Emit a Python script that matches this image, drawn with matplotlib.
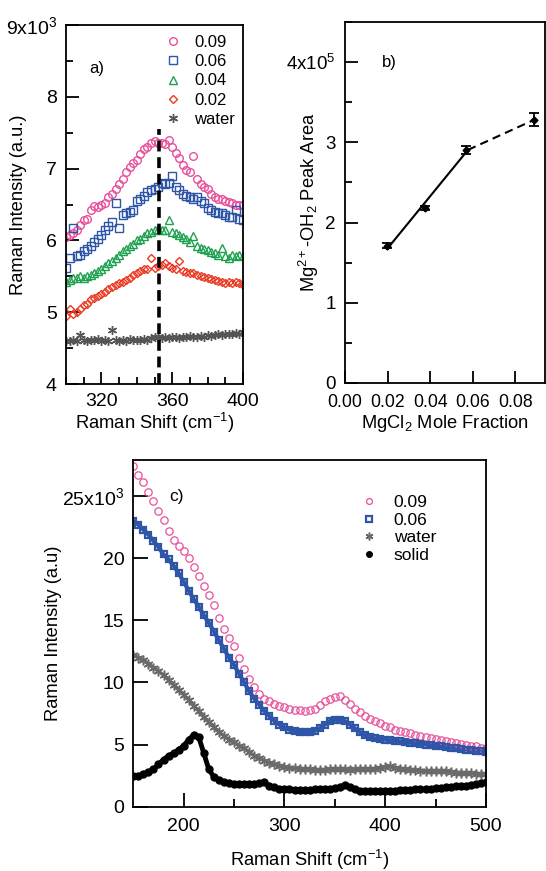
import numpy as np
import matplotlib
matplotlib.use("Agg")
import matplotlib.pyplot as plt
from matplotlib.ticker import FixedLocator, MultipleLocator

plt.rcParams['font.family'] = ['Liberation Sans', 'DejaVu Sans']
plt.rcParams['mathtext.fontset'] = 'custom'
plt.rcParams['mathtext.rm'] = 'Liberation Sans'
plt.rcParams['mathtext.it'] = 'Liberation Sans:italic'
plt.rcParams['axes.linewidth'] = 1.3

# ---- panel a: low-frequency region, 300-400 cm-1 ----
shift_a = np.arange(300, 401, 2)
a_009 = [6.05, 6.07, 6.10, 6.15, 6.22, 6.28, 6.30, 6.42, 6.48, 6.47,
         6.50, 6.52, 6.60, 6.65, 6.72, 6.78, 6.85, 6.95, 7.02, 7.08,
         7.12, 7.20, 7.27, 7.30, 7.36, 7.38, 7.35, 7.36, 7.34, 7.40,
         7.30, 7.22, 7.15, 7.05, 6.98, 6.95, 7.17, 6.85, 6.78, 6.75,
         6.72, 6.65, 6.60, 6.58, 6.57, 6.55, 6.53, 6.52, 6.50, 6.50, 6.50]
a_006 = [5.62, 5.76, 6.17, 5.78, 5.80, 5.85, 5.88, 5.92, 5.98, 6.02,
         6.08, 6.15, 6.20, 6.25, 6.52, 6.17, 6.35, 6.38, 6.40, 6.42,
         6.55, 6.58, 6.62, 6.68, 6.70, 6.72, 6.75, 6.80, 6.78, 6.80,
         6.90, 6.75, 6.70, 6.65, 6.62, 6.60, 6.58, 6.60, 6.55, 6.52,
         6.45, 6.42, 6.40, 6.38, 6.38, 6.35, 6.33, 6.32, 6.42, 6.30, 6.28]
a_004 = [5.42, 5.45, 5.48, 5.47, 5.50, 5.48, 5.50, 5.52, 5.55, 5.58,
         5.60, 5.65, 5.68, 5.72, 5.75, 5.80, 5.85, 5.88, 5.92, 5.95,
         6.00, 6.02, 6.06, 6.10, 6.12, 6.15, 6.16, 6.15, 6.14, 6.28,
         6.12, 6.10, 6.08, 6.05, 6.02, 5.98, 6.06, 5.92, 5.90, 5.88,
         5.86, 5.84, 5.82, 5.80, 5.90, 5.78, 5.76, 5.80, 5.78, 5.80, 5.78]
a_002 = [4.95, 5.05, 4.98, 5.00, 5.05, 5.10, 5.12, 5.18, 5.20, 5.22,
         5.25, 5.28, 5.32, 5.35, 5.38, 5.40, 5.42, 5.45, 5.48, 5.52,
         5.55, 5.58, 5.60, 5.60, 5.76, 5.62, 5.64, 5.66, 5.68, 5.65,
         5.62, 5.60, 5.72, 5.58, 5.56, 5.55, 5.54, 5.52, 5.50, 5.49,
         5.48, 5.46, 5.45, 5.44, 5.42, 5.40, 5.42, 5.40, 5.42, 5.40, 5.38]
a_water = [4.60, 4.60, 4.62, 4.60, 4.68, 4.62, 4.60, 4.62, 4.61, 4.63,
           4.60, 4.62, 4.60, 4.75, 4.61, 4.60, 4.62, 4.60, 4.63, 4.61,
           4.62, 4.61, 4.63, 4.62, 4.64, 4.65, 4.66, 4.64, 4.65, 4.64,
           4.66, 4.65, 4.64, 4.66, 4.65, 4.67, 4.66, 4.65, 4.67, 4.66,
           4.68, 4.67, 4.68, 4.69, 4.68, 4.70, 4.69, 4.70, 4.71, 4.70, 4.72]
peak_pos = 352.5
peak_top = 7.55

# ---- panel b: peak area vs mole fraction ----
mole_frac = [0.0198, 0.0378, 0.0568, 0.0889]
peak_area = [1.71, 2.18, 2.91, 3.28]      # x1e5
area_err = [0.03, 0.03, 0.05, 0.08]

# ---- panel c: wide range, 150-500 cm-1 ----
shift_c = np.arange(150, 501, 5)
c_009 = [27.4, 26.7, 26.1, 25.3, 24.6, 23.8, 23.1, 22.2, 21.5, 21.0,
         20.6, 20.0, 19.3, 18.6, 17.8, 17.0, 16.2, 15.2, 14.3, 13.6,
         12.9, 12.0, 11.1, 10.3, 9.6, 9.1, 8.7, 8.5, 8.3, 8.1,
         8.0, 7.9, 7.8, 7.8, 7.7, 7.8, 7.9, 8.2, 8.5, 8.7,
         8.8, 8.9, 8.6, 8.3, 7.9, 7.6, 7.3, 7.1, 6.9, 6.7,
         6.5, 6.4, 6.2, 6.1, 6.0, 5.9, 5.8, 5.7, 5.6, 5.5,
         5.45, 5.35, 5.3, 5.2, 5.1, 5.05, 5.0, 4.9, 4.85, 4.75, 4.7]
c_006 = [23.0, 22.7, 22.3, 21.9, 21.4, 20.9, 20.3, 19.9, 19.4, 18.8,
         18.1, 17.4, 16.7, 16.1, 15.4, 14.8, 14.1, 13.4, 12.7, 12.0,
         11.4, 10.7, 10.0, 9.3, 8.7, 8.2, 7.7, 7.3, 6.9, 6.6,
         6.4, 6.2, 6.1, 6.0, 6.0, 6.0, 6.1, 6.3, 6.6, 6.9,
         7.0, 7.0, 6.9, 6.6, 6.3, 6.0, 5.75, 5.6, 5.5, 5.45,
         5.4, 5.35, 5.3, 5.25, 5.2, 5.15, 5.1, 5.05, 5.0, 4.95,
         4.9, 4.85, 4.8, 4.75, 4.7, 4.65, 4.6, 4.55, 4.5, 4.45, 4.4]
c_water = [12.2, 12.0, 11.8, 11.5, 11.2, 10.9, 10.6, 10.2, 9.8, 9.4,
           9.0, 8.6, 8.1, 7.7, 7.2, 6.8, 6.4, 6.0, 5.7, 5.4,
           5.2, 4.9, 4.7, 4.4, 4.1, 3.9, 3.7, 3.55, 3.4, 3.3,
           3.2, 3.15, 3.1, 3.05, 3.0, 3.0, 2.95, 2.95, 2.95, 3.0,
           3.0, 3.0, 3.0, 2.95, 3.0, 3.0, 3.0, 3.0, 3.05, 3.15,
           3.2, 3.25, 3.1, 3.05, 3.0, 2.95, 2.95, 2.9, 2.9, 2.9,
           2.9, 2.9, 2.85, 2.8, 2.75, 2.75, 2.7, 2.7, 2.65, 2.6, 2.6]
c_solid = [2.5, 2.5, 2.6, 2.8, 3.0, 3.4, 3.8, 4.1, 4.3, 4.6,
           4.9, 5.4, 5.8, 5.6, 4.3, 3.0, 2.4, 2.15, 2.0, 1.9,
           1.85, 1.8, 1.8, 1.8, 1.8, 1.9, 1.95, 1.7, 1.55, 1.45,
           1.4, 1.4, 1.35, 1.35, 1.35, 1.35, 1.4, 1.4, 1.4, 1.45,
           1.5, 1.6, 1.75, 1.6, 1.4, 1.3, 1.25, 1.25, 1.25, 1.25,
           1.25, 1.3, 1.3, 1.35, 1.35, 1.35, 1.4, 1.4, 1.4, 1.45,
           1.5, 1.5, 1.55, 1.6, 1.65, 1.65, 1.7, 1.75, 1.8, 1.9, 1.95]

PINK = '#E8509B'
BLUE = '#2F55A8'
GREEN = '#1EA14F'
RED = '#EA3A22'
GRAY = '#555555'
FS = 13.2
TS = 14
ASTER = (6, 2, 0)


def style_ticks(ax, major=9, minor=5):
    ax.tick_params(which='both', direction='in', top=False, right=False,
                   labelsize=TS, width=1.3, pad=6.5)
    ax.tick_params(which='major', length=major)
    ax.tick_params(which='minor', length=minor)


def place_labels(ax, xlab_y, ylab_x):
    ax.xaxis.set_label_coords(0.5, xlab_y)
    ax.xaxis.label.set_verticalalignment('center')
    ax.yaxis.set_label_coords(ylab_x, 0.5)
    ax.yaxis.label.set_verticalalignment('center')


fig = plt.figure(figsize=(5.46, 8.71), dpi=100)

# panel a
ax1 = fig.add_axes([0.1209, 0.5591, 0.3242, 0.4122])
k = 1000
ax1.plot(shift_a, np.array(a_009) * k, 'o', mfc='none', mec=PINK, ms=5.5, mew=1.0, label='0.09')
ax1.plot(shift_a, np.array(a_006) * k, 's', mfc='none', mec=BLUE, ms=5.2, mew=1.0, label='0.06')
ax1.plot(shift_a, np.array(a_004) * k, '^', mfc='none', mec=GREEN, ms=5.5, mew=1.0, label='0.04')
ax1.plot(shift_a, np.array(a_002) * k, 'D', mfc='none', mec=RED, ms=4.5, mew=1.0, label='0.02')
ax1.plot(shift_a, np.array(a_water) * k, marker=ASTER, ls='none', color=GRAY, ms=6.5, mew=1.0,
         label='water')
ax1.plot([peak_pos, peak_pos], [4000, peak_top * k], color='black', lw=2.6,
         dashes=(3, 1.6))
ax1.set_xlim(300, 400)
ax1.set_ylim(4000, 9000)
ax1.xaxis.set_major_locator(FixedLocator([320, 360, 400]))
ax1.xaxis.set_minor_locator(MultipleLocator(10))
ax1.yaxis.set_major_locator(FixedLocator([4000, 5000, 6000, 7000, 8000, 9000]))
ax1.set_yticklabels(['4', '5', '6', '7', '8', '9x10$^3$'])
ax1.yaxis.set_minor_locator(MultipleLocator(500))
style_ticks(ax1)
ax1.set_xlabel('Raman Shift (cm$^{-1}$)', fontsize=FS)
ax1.set_ylabel('Raman Intensity (a.u.)', fontsize=FS)
place_labels(ax1, -0.109, -0.27)
ax1.text(313, 8400, 'a)', fontsize=12, ha='left', va='center')
ax1.legend(loc='upper left', bbox_to_anchor=(0.56, 0.972), frameon=False,
           fontsize=12, handlelength=1.0, handletextpad=0.75, labelspacing=0.25,
           borderpad=0, borderaxespad=0)

# panel b
ax2 = fig.add_axes([0.6319, 0.5603, 0.3663, 0.4145])
mf = np.array(mole_frac)
pa = np.array(peak_area) * 1e5
er = np.array(area_err) * 1e5
fit = np.polyfit(mf[:3], pa[:3], 1)
xs = np.array([mf[0], mf[2] + 0.001])
ax2.plot(xs, np.polyval(fit, xs), color='black', lw=1.5)
ax2.plot([xs[1], mf[3]], [np.polyval(fit, xs[1]), pa[3]], color='black', lw=1.5,
         dashes=(4, 2.5))
ax2.errorbar(mf, pa, yerr=er, fmt='D', color='black', ms=3.5, capsize=3.5,
             elinewidth=1.3, capthick=1.3)
ax2.set_xlim(0, 0.094)
ax2.set_ylim(0, 4.5e5)
ax2.xaxis.set_major_locator(FixedLocator([0, 0.02, 0.04, 0.06, 0.08]))
ax2.set_xticklabels(['0.00', '0.02', '0.04', '0.06', '0.08'])
ax2.yaxis.set_major_locator(FixedLocator([0, 1e5, 2e5, 3e5, 4e5]))
ax2.set_yticklabels(['0', '1', '2', '3', '4x10$^5$'])
ax2.yaxis.set_minor_locator(MultipleLocator(0.5e5))
style_ticks(ax2)
ax2.tick_params(axis='x', labelsize=12.7, pad=8)
ax2.tick_params(axis='y', labelsize=13.5)
ax2.set_xlabel('MgCl$_2$ Mole Fraction', fontsize=FS)
ax2.set_ylabel('Mg$^{2+}$-OH$_2$ Peak Area', fontsize=FS)
place_labels(ax2, -0.111, -0.18)
ax2.text(0.0175, 4e5, 'b)', fontsize=12, ha='left', va='center')

# panel c
ax3 = fig.add_axes([0.2441, 0.0738, 0.646, 0.398])
ax3.plot(shift_c, np.array(c_006) * k, '-', color=BLUE, lw=3)
ax3.plot(shift_c, np.array(c_water) * k, '-', color='#6A6A6A', lw=2.5)
ax3.plot(shift_c, np.array(c_009) * k, 'o', mfc='none', mec=PINK, ms=5.3, mew=0.9, label='0.09')
ax3.plot(shift_c, np.array(c_006) * k, 's', mfc='none', mec=BLUE, ms=4.8, mew=1.6, label='0.06')
ax3.plot(shift_c, np.array(c_water) * k, marker=ASTER, ls='none', color='#6A6A6A', ms=7,
         mew=1.1, label='water')
ax3.plot(shift_c, np.array(c_solid) * k, 'o', color='black', ms=5, label='solid')
ax3.plot(shift_c, np.array(c_solid) * k, '-', color='black', lw=3.5)
ax3.set_xlim(150, 500)
ax3.set_ylim(0, 27900)
ax3.xaxis.set_major_locator(FixedLocator([200, 300, 400, 500]))
ax3.xaxis.set_minor_locator(FixedLocator([250, 350, 450]))
ax3.yaxis.set_major_locator(FixedLocator([0, 5000, 10000, 15000, 20000, 25000]))
ax3.set_yticklabels(['0', '5', '10', '15', '20', '25x10$^3$'])
style_ticks(ax3, major=10, minor=5.5)
ax3.tick_params(axis='y', which='major', length=11)
ax3.tick_params(axis='x', pad=8)
ax3.set_xlabel('Raman Shift (cm$^{-1}$)', fontsize=FS)
ax3.set_ylabel('Raman Intensity (a.u)', fontsize=FS)
place_labels(ax3, -0.154, -0.225)
ax3.text(186, 25000, 'c)', fontsize=12.5, ha='left', va='center')
ax3.legend(loc='upper left', bbox_to_anchor=(0.65, 0.90), frameon=False,
           fontsize=12.5, handlelength=0.8, handletextpad=1.0, labelspacing=0.15,
           borderpad=0, borderaxespad=0, markerscale=0.8)

fig.savefig('out.png', dpi=100)
